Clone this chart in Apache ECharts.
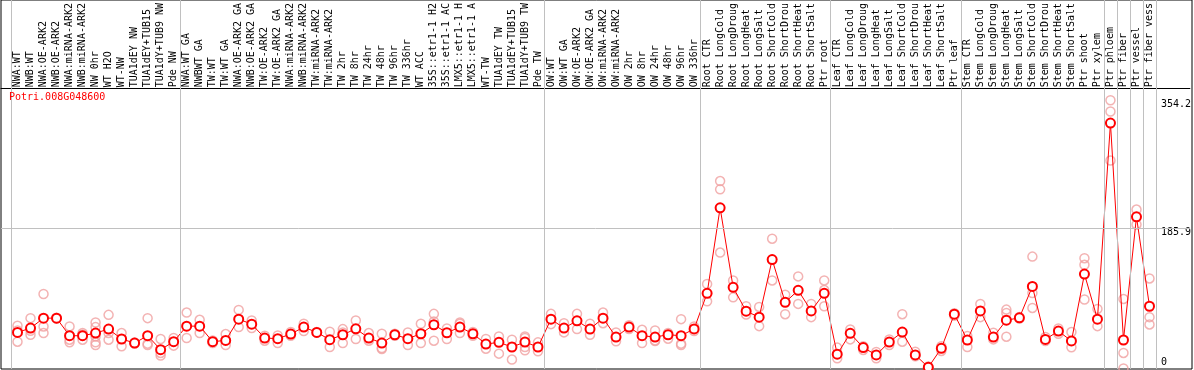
<!DOCTYPE html>
<html><head><meta charset="utf-8">
<script src="https://cdn.jsdelivr.net/npm/echarts@6/dist/echarts.min.js"></script>
<style>html,body{margin:0;padding:0;background:#fff}#c{width:1194px;height:370px}</style>
</head><body><div id="c"></div>
<script>
const chartTitle = 'Potri.008G048600';
const categories = [
  'NWA:WT','NWB:WT','NWA:OE-ARK2','NWB:OE-ARK2','NWA:miRNA-ARK2','NWB:miRNA-ARK2','NW 0hr','WT H2O','WT-NW','TUA1dEY NW','TUA1dEY+TUB15 NW','TUA1dY+TUB9 NW','Pde NW',
  'NWA:WT GA','NWBWT GA','TW:WT','TW:WT GA','NWA:OE-ARK2 GA','NWB:OE-ARK2 GA','TW:OE-ARK2','TW:OE-ARK2 GA','NWA:miRNA-ARK2 GA','NWB:miRNA-ARK2 GA','TW:miRNA-ARK2','TW:miRNA-ARK2 GA',
  'TW 2hr','TW 8hr','TW 24hr','TW 48hr','TW 96hr','TW 336hr','WT ACC','35S::etr1-1 H2O','35S::etr1-1 ACC','LMX5::etr1-1 H2O','LMX5::etr1-1 ACC','WT-TW','TUA1dEY TW','TUA1dEY+TUB15 TW','TUA1dY+TUB9 TW','Pde TW',
  'OW:WT','OW:WT GA','OW:OE-ARK2','OW:OE-ARK2 GA','OW:miRNA-ARK2','OW:miRNA-ARK2 GA','OW 2hr','OW 8hr','OW 24hr','OW 48hr','OW 96hr','OW 336hr',
  'Root CTR','Root LongCold','Root LongDrought','Root LongHeat','Root LongSalt','Root ShortCold','Root ShortDrought','Root ShortHeat','Root ShortSalt','Ptr root',
  'Leaf CTR','Leaf LongCold','Leaf LongDrought','Leaf LongHeat','Leaf LongSalt','Leaf ShortCold','Leaf ShortDrought','Leaf ShortHeat','Leaf ShortSalt','Ptr leaf',
  'Stem CTR','Stem LongCold','Stem LongDrought','Stem LongHeat','Stem LongSalt','Stem ShortCold','Stem ShortDrought','Stem ShortHeat','Stem ShortSalt','Ptr shoot','Ptr xylem',
  'Ptr phloem','Ptr fiber','Ptr vessel','Ptr fiber vessel'
];
const means = [
  49.4,55.0,68.1,68.1,45.0,45.0,48.5,53.7,40.7,35.4,45.0,26.7,37.2,
  57.6,57.6,37.2,38.9,66.8,60.2,42.0,41.1,47.2,56.3,49.4,39.8,46.3,54.1,42.0,35.4,46.3,41.1,47.6,59.4,48.9,56.3,47.6,34.1,36.3,30.2,36.7,30.2,
  66.8,55.0,64.6,53.7,68.1,43.3,56.3,45.0,43.3,46.3,45.0,54.0,
  100.7,212.9,108.5,77.2,69.4,145.0,88.9,104.6,77.6,100.7,
  20.7,48.1,29.4,19.8,36.7,49.8,19.8,3.5,28.5,73.3,
  39.4,77.6,43.3,65.4,68.5,109.8,40.2,51.1,38.1,125.9,66.8,
  324.2,39.4,201.1,83.7
];
const replicates = [
  [58.1,37.2,52.0],[68.1,46.3,51.5],[99.8,57.2,48.5],[68.6,67.6],[57.2,39.8,36.3],[48.5,39.8,46.5],[62.4,56.3,44.1,36.3,32.8],[72.4,48.5,39.8],[48.5,31.1],[36.0,34.8],[68.1,34.6,32.8],[40.7,22.4,18.9],[42.0,32.0],
  [75.4,42.0],[65.9,48.5],[38.9,35.4],[47.2,32.8],[78.9,56.3],[65.0,55.0],[45.0,38.5],[45.4,35.4],[49.8,45.0],[60.7,51.1],[50.0,48.8],[50.2,30.2],[53.7,49.4,35.4],[65.0,40.7],[48.5,38.5],[47.6,28.9,27.6],
  [47.6,45.0],[49.4,32.8],[60.7,35.4],[73.7,63.7,38.5],[54.6,40.7],[62.4,60.7,48.5],[49.8,45.0],[40.7,28.0],[44.1,21.5],[39.8,13.7],[44.1,42.0,30.2,25.9],[36.3,24.6],
  [73.7,60.2],[61.5,49.4],[73.7,53.7],[60.7,46.3],[75.4,61.5],[49.4,37.6],[58.9,53.7],[52.8,35.4],[52.0,38.9,38.1],[48.5,41.1],[66.8,34.6,32.8],[57.2,51.1],
  [112.9,90.2],[248.1,237.2,154.2],[117.6,95.4],[83.7,72.8],[82.8,57.6],[172.4,117.6],[98.9,73.3],[122.9,86.8],[86.8,69.4],[117.6,105.0,83.7],
  [29.4,15.4],[53.3,40.2],[31.1,26.3],[23.7,15.4],[40.2,32.8],[73.3,37.2],[24.1,18.0],[4.5,2.5],[31.1,25.0],[74.6,71.1],
  [44.6,30.2],[86.8,69.4],[48.9,40.2],[79.3,75.0,43.7],[69.5,67.5],[148.9,101.1,81.5],[43.3,38.1],[54.6,47.6],[49.8,29.8],[146.8,138.1,92.6],[80.2,57.6],
  [354.2,339.4,275.1],[93.3,22.4,2.0],[210.7,191.1],[120.2,69.4,59.8]
];
const groupBounds = [0,13,41,53,63,73,84,85,86,87,88];
const yTickLabels = [354.2, 185.9];
const yZeroLabel = [0];
const yGridValue = 185.9;
const yMax = 368.6;

const MONO = 'DejaVu Sans Mono';
const repData = [];
replicates.forEach((arr, i) => arr.forEach(v => repData.push([i, v])));

const hiddenAxis = (extra) => Object.assign({show:false}, extra);

const option = {
  animation: false,
  backgroundColor: '#fff',
  title: {
    text: chartTitle, left: 9, top: 92, padding: 0,
    textStyle: {fontFamily: MONO, fontSize: 10, fontWeight: 'normal', color: '#ff0000'}
  },
  grid: [
    {left: 1, top: 0, width: 1191, height: 369, show: true, borderColor: '#000', borderWidth: 1, backgroundColor: 'transparent'},
    {left: 1, top: 88, width: 1191, height: 282.5, show: false},
    {left: 11, top: 88, width: 1145, height: 282.5, show: false},
    {left: 11, top: 0, width: 1145, height: 369, show: false}
  ],
  xAxis: [
    hiddenAxis({gridIndex: 0, type: 'value', min: 0, max: 1}),
    {gridIndex: 1, type: 'value', min: 0, max: 1, position: 'top',
     axisLine: {show: true, onZero: false, lineStyle: {color: '#000', width: 1}},
     axisTick: {show: false}, axisLabel: {show: false}, splitLine: {show: false}},
    {gridIndex: 2, type: 'category', data: categories, position: 'top', boundaryGap: true,
     axisLine: {show: false}, axisTick: {show: false}, splitLine: {show: false},
     axisLabel: {interval: 0, rotate: 90, margin: 2, fontFamily: MONO, fontSize: 10, color: '#000',
       formatter: v => v.slice(0, 14)}},
    hiddenAxis({gridIndex: 3, type: 'value', min: 0, max: 88})
  ],
  yAxis: [
    hiddenAxis({gridIndex: 0, type: 'value', min: 0, max: 1}),
    {gridIndex: 1, type: 'value', min: 0, max: yMax, position: 'right',
     axisLine: {show: false}, axisTick: {show: false}, splitLine: {show: false},
     axisLabel: {inside: true, margin: 29, customValues: yTickLabels, verticalAlign: 'top', align: 'left',
       fontFamily: MONO, fontSize: 10, color: '#000', formatter: v => String(v)}},
    {gridIndex: 1, type: 'value', min: 0, max: yMax, position: 'right',
     axisLine: {show: false}, axisTick: {show: false}, splitLine: {show: false},
     axisLabel: {inside: true, margin: 29, customValues: yZeroLabel, verticalAlign: 'bottom', align: 'left',
       padding: [0, 0, 3, 0], fontFamily: MONO, fontSize: 10, color: '#000', formatter: v => String(v),
       showMinLabel: true}},
    hiddenAxis({gridIndex: 2, type: 'value', min: 0, max: yMax}),
    hiddenAxis({gridIndex: 3, type: 'value', min: 0, max: 1})
  ],
  series: [
    {type: 'line', xAxisIndex: 3, yAxisIndex: 4, data: [], silent: true, z: 1,
     markLine: {silent: true, symbol: 'none', animation: false, label: {show: false},
       lineStyle: {color: '#c0c0c0', width: 1, type: 'solid'},
       data: groupBounds.map(b => ({xAxis: b}))}},
    {type: 'line', xAxisIndex: 1, yAxisIndex: 1, data: [], silent: true, z: 1,
     markLine: {silent: true, symbol: 'none', animation: false, label: {show: false},
       lineStyle: {color: '#c0c0c0', width: 1, type: 'solid'},
       data: [{yAxis: yGridValue}]}},
    {type: 'scatter', xAxisIndex: 2, yAxisIndex: 3, data: repData, symbol: 'circle', symbolSize: 9, z: 2,
     itemStyle: {color: 'rgba(0,0,0,0)', borderColor: '#f0a0a0', borderWidth: 1.5}},
    {type: 'line', xAxisIndex: 2, yAxisIndex: 3, data: means, symbol: 'emptyCircle', symbolSize: 9, z: 3,
     showAllSymbol: true, clip: false,
     lineStyle: {color: '#ff0000', width: 1}, itemStyle: {color: '#ff0000', borderWidth: 1.5}}
  ]
};
const chart = echarts.init(document.getElementById('c'), null, {renderer: 'canvas'});
chart.setOption(option);
</script></body></html>
